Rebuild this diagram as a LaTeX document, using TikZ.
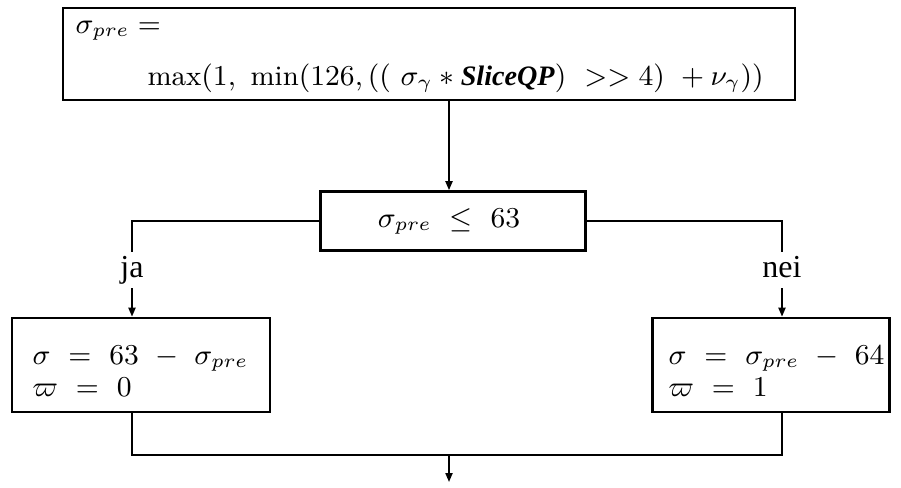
\documentclass[tikz,border=0pt]{standalone}
\usepackage{fontspec}
\newfontfamily\tms{Liberation Serif}
\usetikzlibrary{arrows.meta}
\begin{document}
\begin{tikzpicture}[x=0.3125pt,y=-0.3125pt,
  box/.style={draw,line width=0.82pt,inner sep=0pt},
  conn/.style={line width=0.56pt},
  arr/.style={conn,-{Triangle[width=2.2pt,length=2.8pt]}},
  txt/.style={inner sep=0pt,anchor=base west,font=\fontsize{8.8}{10.5}\selectfont},
  lbl/.style={inner sep=0pt,anchor=base,font=\fontsize{10}{12}\selectfont\tms}]
\useasboundingbox (0,0) rectangle (901,487);
% boxes
\node[box,minimum width=228.75pt,minimum height=28.75pt] (top) at (429,54) {};
\node[box,minimum width=82.8pt,minimum height=18.44pt] (mid) at (453,221) {};
\node[box,minimum width=80.6pt,minimum height=29.4pt] (lb) at (141,365) {};
\node[box,minimum width=74.06pt,minimum height=29.4pt] (rb) at (771,365) {};
% texts
\node[txt] (t1) at (75,33) {$\sigma_{pre} =$};
\node[txt] (t2) at (147,85) {$\max(1,\ \min(126,((\ \sigma_\gamma * \textbf{\textit{\tms SliceQP}})\ >> 4)\ + \nu_\gamma))$};
\node[txt,anchor=base] (mt) at (449,227) {$\sigma_{pre}\ \leq\ 63$};
\node[txt] (l1) at (32,364) {$\sigma\ =\ 63\ -\ \sigma_{pre}$};
\node[txt] (l2) at (32,396) {$\varpi\ =\ 0$};
\node[txt] (r1) at (668,364) {$\sigma\ =\ \sigma_{pre}\ -\ 64$};
\node[txt] (r2) at (668,396) {$\varpi\ =\ 1$};
% labels
\node[lbl] (ja) at (132,277) {ja};
\node[lbl] (nei) at (782,277) {nei};
% coordinates
\coordinate (jl) at (132,221);
\coordinate (jt) at (132,252);
\coordinate (jb) at (132,288);
\coordinate (nr) at (782,221);
\coordinate (nt) at (782,252);
\coordinate (nb) at (782,288);
\coordinate (bl) at (132,455);
\coordinate (br) at (782,455);
\coordinate (bm) at (449,455);
\coordinate (end) at (449,482);
% connectors
\draw[arr] (top.south -| mt) -- (mid.north -| mt);
\draw[conn] (mid.west) -- (jl) -- (jt);
\draw[arr] (jb) -- (lb.north -| jb);
\draw[conn] (mid.east) -- (nr) -- (nt);
\draw[arr] (nb) -- (rb.north -| nb);
\draw[conn] (lb.south -| bl) -- (bl) -- (br) -- (rb.south -| br);
\draw[arr] (bm) -- (end);
\end{tikzpicture}
\end{document}
